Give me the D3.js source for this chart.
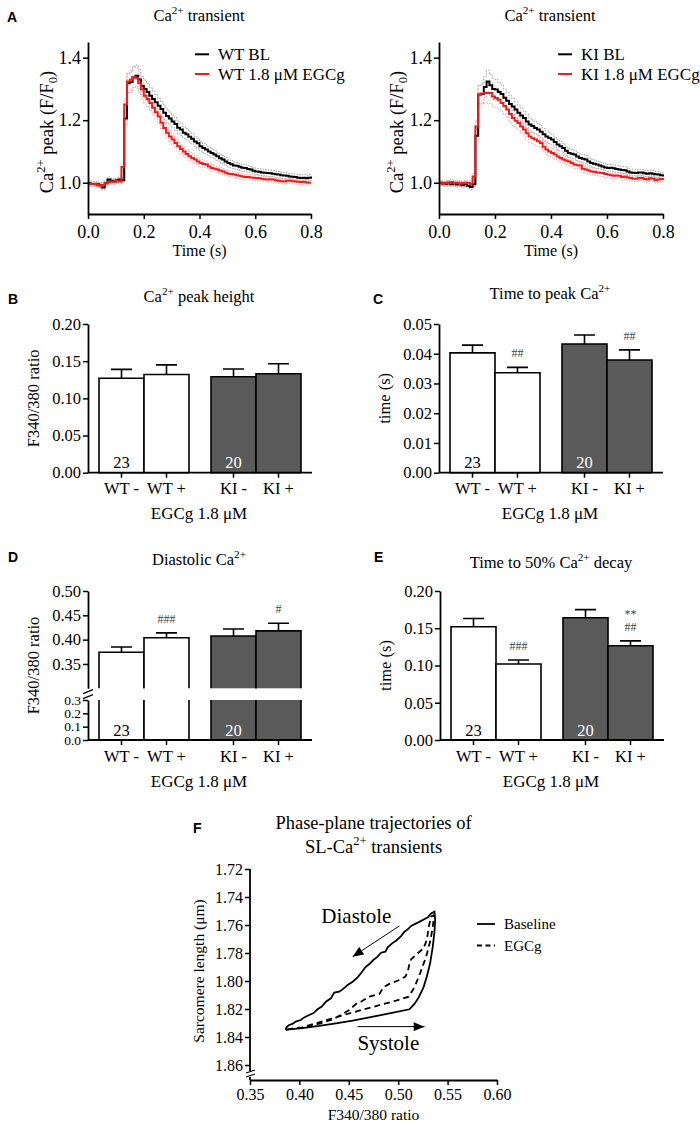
<!DOCTYPE html>
<html><head><meta charset="utf-8">
<script src="https://cdn.jsdelivr.net/npm/d3@7"></script>
<style>
body{margin:0;background:#fff;}
</style></head><body>
<svg id="fig" width="700" height="1128"></svg>
<script>
// ---------------- DATA ----------------
const timeA = [0.00,0.01,0.02,0.03,0.04,0.05,0.06,0.07,0.08,0.09,0.10,0.11,0.12,0.13,0.14,0.15,0.16,0.17,0.18,0.19,0.20,0.21,0.22,0.23,0.24,0.25,0.26,0.27,0.28,0.29,0.30,0.31,0.32,0.33,0.34,0.35,0.36,0.37,0.38,0.39,0.40,0.41,0.42,0.43,0.44,0.45,0.46,0.47,0.48,0.49,0.50,0.51,0.52,0.53,0.54,0.55,0.56,0.57,0.58,0.59,0.60,0.61,0.62,0.63,0.64,0.65,0.66,0.67,0.68,0.69,0.70,0.71,0.72,0.73,0.74,0.75,0.76,0.77,0.78,0.79,0.80];

const wtBL = [0.998,0.996,0.997,0.995,0.992,0.985,0.998,1.010,1.006,1.004,
 1.008,1.010,1.008,1.205,1.318,1.322,1.338,1.342,1.330,1.310,
 1.300,1.290,1.278,1.268,1.257,1.246,1.236,1.224,1.213,1.205,
 1.196,1.188,1.176,1.170,1.160,1.155,1.147,1.141,1.132,1.126,
 1.117,1.111,1.106,1.100,1.095,1.090,1.085,1.078,1.074,1.068,
 1.063,1.059,1.055,1.054,1.051,1.048,1.047,1.044,1.042,1.038,
 1.036,1.035,1.033,1.032,1.031,1.030,1.029,1.027,1.026,1.024,
 1.023,1.022,1.020,1.019,1.018,1.016,1.015,1.016,1.014,1.016,
 1.020];
const wtEG = [0.997,0.995,0.996,0.993,0.990,0.992,0.998,1.002,1.004,1.003,
 1.006,1.004,1.050,1.250,1.324,1.330,1.338,1.335,1.318,1.298,
 1.278,1.268,1.255,1.240,1.225,1.212,1.192,1.175,1.160,1.148,
 1.138,1.127,1.117,1.108,1.100,1.092,1.085,1.079,1.074,1.068,
 1.063,1.060,1.058,1.052,1.047,1.045,1.042,1.039,1.036,1.032,
 1.029,1.028,1.026,1.024,1.022,1.020,1.018,1.018,1.017,1.016,
 1.015,1.014,1.013,1.011,1.010,1.011,1.010,1.008,1.006,1.005,
 1.004,1.006,1.006,1.005,1.004,1.003,1.002,1.003,1.001,1.000,
 1.000];
const kiBL = [1.000,0.998,0.996,1.000,0.995,0.998,0.994,0.997,0.992,0.996,
 0.990,0.986,0.995,1.150,1.282,1.284,1.306,1.324,1.312,1.300,
 1.298,1.290,1.284,1.272,1.262,1.252,1.244,1.234,1.224,1.215,
 1.207,1.196,1.186,1.181,1.175,1.170,1.163,1.155,1.148,1.143,
 1.138,1.130,1.122,1.117,1.111,1.102,1.095,1.093,1.090,1.084,
 1.079,1.077,1.074,1.068,1.063,1.061,1.058,1.055,1.052,1.049,
 1.047,1.048,1.046,1.044,1.042,1.041,1.040,1.036,1.033,1.032,
 1.031,1.033,1.033,1.030,1.029,1.030,1.029,1.027,1.026,1.024,
 1.020];
const kiEG = [1.000,0.996,1.000,0.998,1.002,0.998,1.000,0.997,1.000,0.998,
 1.000,0.997,1.020,1.180,1.282,1.285,1.287,1.288,1.287,1.276,
 1.271,1.265,1.255,1.245,1.234,1.220,1.207,1.198,1.191,1.180,
 1.170,1.158,1.148,1.142,1.138,1.133,1.127,1.115,1.106,1.100,
 1.095,1.090,1.084,1.079,1.074,1.071,1.068,1.063,1.058,1.056,
 1.055,1.045,1.042,1.039,1.036,1.035,1.033,1.032,1.031,1.028,
 1.026,1.024,1.022,1.023,1.022,1.018,1.020,1.017,1.015,1.013,
 1.013,1.016,1.015,1.012,1.010,1.014,1.013,1.008,1.010,1.012,
 1.015];

const semWtBL = [0.008,0.008,0.008,0.008,0.008,0.008,0.008,0.008,0.008,0.008,
 0.008,0.008,0.008,0.020,0.030,0.032,0.034,0.034,0.032,0.030,
 0.028,0.027,0.026,0.025,0.025,0.024,0.023,0.022,0.022,0.021,
 0.020,0.020,0.019,0.019,0.018,0.018,0.017,0.017,0.016,0.016,
 0.015,0.015,0.015,0.014,0.014,0.014,0.013,0.013,0.013,0.012,
 0.012,0.012,0.011,0.011,0.011,0.011,0.010,0.010,0.010,0.010,
 0.010,0.010,0.010,0.010,0.010,0.010,0.010,0.010,0.010,0.010,
 0.010,0.010,0.010,0.010,0.010,0.010,0.010,0.010,0.010,0.010,
 0.010];
const semWtEG = [0.008,0.008,0.008,0.008,0.008,0.008,0.008,0.008,0.008,0.008,
 0.008,0.008,0.010,0.020,0.028,0.030,0.032,0.032,0.030,0.028,
 0.026,0.025,0.024,0.023,0.022,0.021,0.020,0.019,0.018,0.018,
 0.017,0.016,0.016,0.015,0.015,0.014,0.014,0.013,0.013,0.012,
 0.012,0.012,0.011,0.011,0.011,0.010,0.010,0.010,0.010,0.009,
 0.009,0.009,0.009,0.009,0.009,0.009,0.009,0.009,0.009,0.009,
 0.008,0.008,0.008,0.008,0.008,0.008,0.008,0.008,0.008,0.008,
 0.008,0.008,0.008,0.008,0.008,0.008,0.008,0.008,0.008,0.008,
 0.008];
const semKiBL = [0.008,0.008,0.008,0.008,0.008,0.008,0.008,0.008,0.008,0.008,
 0.008,0.008,0.008,0.020,0.030,0.032,0.034,0.036,0.035,0.034,
 0.032,0.030,0.029,0.028,0.027,0.026,0.025,0.025,0.024,0.023,
 0.022,0.022,0.021,0.020,0.020,0.019,0.019,0.018,0.018,0.017,
 0.017,0.016,0.016,0.015,0.015,0.015,0.014,0.014,0.014,0.013,
 0.013,0.013,0.013,0.012,0.012,0.012,0.012,0.011,0.011,0.011,
 0.011,0.011,0.011,0.011,0.011,0.011,0.011,0.011,0.011,0.011,
 0.010,0.010,0.010,0.010,0.010,0.010,0.010,0.010,0.010,0.010,
 0.010];
const semKiEG = [0.008,0.008,0.008,0.008,0.008,0.008,0.008,0.008,0.008,0.008,
 0.008,0.008,0.010,0.020,0.028,0.030,0.032,0.033,0.034,0.033,
 0.031,0.030,0.028,0.027,0.026,0.025,0.024,0.023,0.022,0.021,
 0.020,0.020,0.019,0.018,0.018,0.017,0.016,0.016,0.015,0.015,
 0.014,0.014,0.014,0.013,0.013,0.013,0.012,0.012,0.012,0.011,
 0.011,0.011,0.011,0.011,0.011,0.011,0.011,0.011,0.011,0.011,
 0.010,0.010,0.010,0.010,0.010,0.010,0.010,0.010,0.010,0.010,
 0.009,0.009,0.009,0.009,0.009,0.009,0.009,0.009,0.009,0.009,
 0.009];

const ticksAx = [0, 0.2, 0.4, 0.6, 0.8];
const ticksAy = [1.0, 1.2, 1.4];

// bar charts
const CAT_LABELS = ["WT -", "WT +", "KI -", "KI +"];
const CAT_GROUP = ["WT", "WT", "KI", "KI"];
const CAT_TREAT = ["-", "+", "-", "+"];
const GROUPS = ["WT", "KI"];
const TREATS = ["-", "+"];
const N_CELLS = ["23", "", "20", ""];

const peakHeight    = [0.127, 0.132, 0.129, 0.133];
const peakHeightErr = [0.012, 0.013, 0.0105, 0.0136];
const timeToPeak    = [0.0403, 0.0336, 0.0433, 0.0379];
const timeToPeakErr = [0.0026, 0.0018, 0.0030, 0.0034];
const diastolic     = [0.374, 0.404, 0.4075, 0.418];
const diastolicErr  = [0.011, 0.010, 0.0144, 0.0156];
const decay50       = [0.152, 0.102, 0.164, 0.1266];
const decay50Err    = [0.011, 0.0054, 0.011, 0.0064];

const sigC = [[], ["##"], [], ["##"]];
const sigD = [[], ["###"], [], ["#"]];
const sigE = [[], ["###"], [], ["##", "**"]];

const ticksB = [0, 0.05, 0.10, 0.15, 0.20];
const ticksC = [0, 0.01, 0.02, 0.03, 0.04, 0.05];
const ticksDupper = [0.35, 0.40, 0.45, 0.50];
const ticksDlower = [0, 0.1, 0.2, 0.3];
const ticksE = [0, 0.05, 0.10, 0.15, 0.20];

// phase plane [F340/380 ratio, sarcomere length]
const phaseBaseline = [
 [0.3862,1.8350],[0.3896,1.8345],[0.4031,1.8336],[0.4200,1.8321],[0.4369,1.8302],[0.4539,1.8283],
 [0.4708,1.8260],[0.4911,1.8231],[0.5114,1.8202],[0.5164,1.8164],[0.5208,1.8117],[0.5256,1.8045],
 [0.5289,1.7969],[0.5323,1.7874],[0.5350,1.7755],[0.5367,1.7648],[0.5374,1.7564],[0.5367,1.7505],
 [0.5333,1.7517],[0.5300,1.7545],[0.5249,1.7564],[0.5198,1.7583],[0.5131,1.7607],[0.5097,1.7631],
 [0.5063,1.7648],[0.5029,1.7679],[0.4978,1.7712],[0.4938,1.7731],[0.4894,1.7760],[0.4870,1.7790],
 [0.4826,1.7798],[0.4792,1.7826],[0.4748,1.7850],[0.4708,1.7879],[0.4667,1.7902],[0.4623,1.7945],
 [0.4589,1.7974],[0.4539,1.8005],[0.4488,1.8029],[0.4437,1.8060],[0.4403,1.8076],[0.4353,1.8083],
 [0.4319,1.8124],[0.4268,1.8148],[0.4227,1.8183],[0.4184,1.8202],[0.4139,1.8231],[0.4099,1.8243],
 [0.4048,1.8260],[0.4014,1.8279],[0.3963,1.8290],[0.3930,1.8307],[0.3896,1.8314],[0.3869,1.8331],
 [0.3862,1.8350]];
const phaseEGCg = [
 [0.3879,1.8345],[0.4031,1.8331],[0.4234,1.8288],[0.4505,1.8231],[0.4776,1.8179],[0.4978,1.8140],
 [0.5107,1.8112],[0.5164,1.8045],[0.5222,1.7945],[0.5283,1.7826],[0.5327,1.7707],[0.5350,1.7612],
 [0.5364,1.7529],[0.5333,1.7540],[0.5310,1.7612],[0.5289,1.7707],[0.5256,1.7767],[0.5198,1.7802],
 [0.5131,1.7845],[0.5114,1.7879],[0.5097,1.7933],[0.5073,1.7969],[0.5012,1.7993],[0.4911,1.8021],
 [0.4850,1.8045],[0.4810,1.8093],[0.4708,1.8112],[0.4623,1.8148],[0.4572,1.8164],[0.4505,1.8207],
 [0.4420,1.8243],[0.4336,1.8274],[0.4234,1.8298],[0.4133,1.8317],[0.4031,1.8331],[0.3930,1.8340],
 [0.3879,1.8345]];
const ticksFx = [0.35, 0.40, 0.45, 0.50, 0.55, 0.60];
const ticksFy = [1.72, 1.74, 1.76, 1.78, 1.80, 1.82, 1.84, 1.86];
const annotF = [
 {text: "Diastole", at: [0.4576, 1.7586], from: [0.5012, 1.7607], to: [0.4539, 1.7826]},
 {text: "Systole",  at: [0.4900, 1.8493], from: [0.4589, 1.8326], to: [0.5266, 1.8326]}
];

// ---------------- DRAWING ----------------
const SERIF = '"Liberation Serif","Times New Roman",serif';
const SANS = '"Liberation Sans",Arial,sans-serif';
const RED = "#ee1c1c";
const DARK = "#5a5a5a";
const svg = d3.select("#fig").attr("font-family", SERIF);

svg.append("defs").append("marker")
  .attr("id", "ah").attr("viewBox", "0 0 12 10").attr("refX", 12).attr("refY", 5)
  .attr("markerWidth", 12).attr("markerHeight", 9).attr("markerUnits", "userSpaceOnUse")
  .attr("orient", "auto")
  .append("path").attr("d", "M0,0L12,5L0,10z").attr("fill", "#000");

function rich(g, x, y, parts, size, opt) {
  opt = opt || {};
  const t = g.append("text").attr("font-size", size)
    .attr("text-anchor", opt.anchor || "middle").attr("fill", opt.fill || "#000");
  if (opt.rotate) t.attr("transform", `translate(${x},${y}) rotate(-90)`);
  else t.attr("x", x).attr("y", y);
  let shift = 0;
  parts.forEach(p => {
    const str = Array.isArray(p) ? p[0] : p;
    const kind = Array.isArray(p) ? p[1] : null;
    const ts = t.append("tspan").text(str);
    let target = 0;
    if (kind === "sup") { target = -size * 0.42; ts.attr("font-size", size * 0.68); }
    else if (kind === "sub") { target = size * 0.22; ts.attr("font-size", size * 0.68); }
    if (target - shift !== 0) ts.attr("dy", target - shift);
    shift = target;
  });
  return t;
}

function letter(x, y, s) {
  svg.append("text").attr("x", x).attr("y", y).attr("font-family", SANS)
    .attr("font-weight", "bold").attr("font-size", 14).text(s);
}

function styleAxis(sel, fs) {
  sel.attr("font-family", SERIF).attr("font-size", fs);
  sel.select(".domain").attr("stroke-width", 1.8).attr("stroke", "#000");
  sel.selectAll(".tick line").attr("stroke-width", 1.5).attr("stroke", "#000");
  sel.selectAll(".tick text").attr("fill", "#000");
}

// ----- Panel A -----
function transientPanel(cfg) {
  const g = svg.append("g");
  const x = d3.scaleLinear().domain([0, 0.8]).range([cfg.x0, cfg.x1]);
  const y = d3.scaleLinear().domain([0.9, 1.45]).range([214, 42]);
  const line = arr => d3.line().x((d, i) => x(timeA[i])).y(d => y(d)).curve(d3.curveStepAfter)(arr);

  const bands = [
    {s: cfg.bl, e: cfg.blSem, c: "#9a9a9a"},
    {s: cfg.eg, e: cfg.egSem, c: "#f2a3a3"}
  ];
  bands.forEach(b => {
    [1, -1].forEach(sgn => {
      g.append("path").attr("d", line(b.s.map((v, i) => v + sgn * b.e[i])))
        .attr("fill", "none").attr("stroke", b.c).attr("stroke-width", 1)
        .attr("stroke-dasharray", "1.5,1.5");
    });
  });
  g.append("path").attr("d", line(cfg.bl)).attr("fill", "none").attr("stroke", "#000").attr("stroke-width", 2);
  g.append("path").attr("d", line(cfg.eg)).attr("fill", "none").attr("stroke", RED).attr("stroke-width", 2);

  const ax = g.append("g").attr("transform", `translate(0,${y(0.9)})`)
    .call(d3.axisBottom(x).tickValues(ticksAx).tickFormat(d3.format(".1f")).tickSize(5).tickPadding(6).tickSizeOuter(0));
  styleAxis(ax, 18);
  const ay = g.append("g").attr("transform", `translate(${x(0)},0)`)
    .call(d3.axisLeft(y).tickValues(ticksAy).tickFormat(d3.format(".1f")).tickSize(5).tickPadding(2).tickSizeOuter(0));
  styleAxis(ay, 18);

  rich(g, (cfg.x0 + cfg.x1) / 2, 256, ["Time (s)"], 16);
  rich(g, cfg.ylabX, 132, ["Ca", ["2+", "sup"], " peak (F/F", ["0", "sub"], ")"], 18.5, {rotate: true});
  rich(g, cfg.titleX, 20.7, ["Ca", ["2+", "sup"], " transient"], 16.5);

  // legend
  const lg = [{c: "#000", t: cfg.legend[0], y: 54.3}, {c: RED, t: cfg.legend[1], y: 74}];
  lg.forEach(l => {
    g.append("line").attr("x1", cfg.legX).attr("x2", cfg.legX + 14).attr("y1", l.y).attr("y2", l.y)
      .attr("stroke", l.c).attr("stroke-width", 2);
    g.append("text").attr("x", cfg.legX + 23).attr("y", l.y + 6).attr("font-size", 17).text(l.t);
  });
}

transientPanel({x0: 88, x1: 311, bl: wtBL, eg: wtEG, blSem: semWtBL, egSem: semWtEG,
  ylabX: 53, titleX: 199, legX: 195, legend: ["WT BL", "WT 1.8 \u03bcM EGCg"]});
transientPanel({x0: 439, x1: 663, bl: kiBL, eg: kiEG, blSem: semKiBL, egSem: semKiEG,
  ylabX: 403, titleX: 550, legX: 558, legend: ["KI BL", "KI 1.8 \u03bcM EGCg"]});
letter(7, 22, "A");

// ----- Bar panels -----
function barPanel(cfg) {
  const g = svg.append("g");
  const gx = d3.scaleBand().domain(GROUPS).range([cfg.ax, cfg.ax + 224])
    .paddingInner(22 / 112).paddingOuter(11 / 112);
  const tx = d3.scaleBand().domain(TREATS).range([0, gx.bandwidth()]);
  const bw = tx.bandwidth();
  const leftOf = i => gx(CAT_GROUP[i]) + tx(CAT_TREAT[i]);
  const segs = cfg.segs;
  const last = segs[segs.length - 1];
  const base = last.y(last.lo);

  cfg.values.forEach((v, i) => {
    const l = leftOf(i), r = l + bw;
    const fill = CAT_GROUP[i] === "WT" ? "#fff" : DARK;
    segs.forEach(s => {
      if (v <= s.lo) return;
      const top = s.y(Math.min(v, s.hi)), bot = s.y(s.lo);
      const openTop = v > s.hi, openBot = s.lo > 0;
      g.append("rect").attr("x", l).attr("y", top).attr("width", bw).attr("height", bot - top).attr("fill", fill);
      let d = openBot ? `M${l},${bot}` : `M${r},${bot}L${l},${bot}`;
      d += `L${l},${top}`;
      d += openTop ? `M${r},${top}` : `L${r},${top}`;
      d += `L${r},${bot}`;
      g.append("path").attr("d", d).attr("fill", "none").attr("stroke", "#000").attr("stroke-width", 1.6);
    });
    // error bar
    const s = segs.find(s => v > s.lo && v <= s.hi);
    const cx = l + bw / 2;
    const eTop = s.y(v + cfg.errs[i]);
    g.append("path").attr("d", `M${cx},${s.y(v)}V${eTop}M${cx - 10.5},${eTop}H${cx + 10.5}`)
      .attr("fill", "none").attr("stroke", "#000").attr("stroke-width", 1.6);
    // significance
    (cfg.sig ? cfg.sig[i] : []).forEach((txt, k) => {
      g.append("text").attr("x", cx).attr("y", eTop - 10 - k * 12.5).attr("text-anchor", "middle")
        .attr("font-size", 12).attr("fill", "#444").text(txt);
    });
    // n
    if (N_CELLS[i]) {
      g.append("text").attr("x", cx).attr("y", base - 4.5).attr("text-anchor", "middle")
        .attr("font-size", 16.5).attr("fill", CAT_GROUP[i] === "WT" ? "#000" : "#fff").text(N_CELLS[i]);
    }
  });

  segs.forEach(s => {
    const a = g.append("g").attr("transform", `translate(${cfg.ax},0)`)
      .call(d3.axisLeft(s.y).tickValues(s.ticks).tickFormat(d3.format(s.fmt)).tickSize(5).tickPadding(2).tickSizeOuter(0));
    styleAxis(a, s.fs || 16.5);
  });
  if (segs.length > 1) {
    const gapMid = (segs[0].y(segs[0].lo) + segs[1].y(segs[1].hi)) / 2;
    g.append("rect").attr("x", cfg.ax - 6).attr("y", gapMid - 3).attr("width", 12).attr("height", 6).attr("fill", "#fff");
    [-2.5, 2.5].forEach(o => {
      g.append("line").attr("x1", cfg.ax - 5).attr("y1", gapMid + o + 2).attr("x2", cfg.ax + 5).attr("y2", gapMid + o - 2)
        .attr("stroke", "#000").attr("stroke-width", 1.3);
    });
  }
  // x axis
  g.append("line").attr("x1", cfg.ax).attr("x2", cfg.ax + 224).attr("y1", base).attr("y2", base)
    .attr("stroke", "#000").attr("stroke-width", 1.8);
  CAT_LABELS.forEach((lab, i) => {
    const cx = leftOf(i) + bw / 2;
    g.append("line").attr("x1", cx).attr("x2", cx).attr("y1", base).attr("y2", base + 5)
      .attr("stroke", "#000").attr("stroke-width", 1.5);
    g.append("text").attr("x", cx).attr("y", base + 21.5).attr("text-anchor", "middle")
      .attr("font-size", 16.5).text(lab);
  });
  g.append("text").attr("x", cfg.ax + 111).attr("y", base + 46.5).attr("text-anchor", "middle")
    .attr("font-size", 17).text("EGCg 1.8 \u03bcM");
  rich(g, cfg.ax - 49, (segs[0].y(segs[0].hi) + base) / 2, cfg.ylabel, 16.5, {rotate: true});
  rich(g, cfg.ax + 111, cfg.titleY, cfg.title, 16.5);
}

const yB = d3.scaleLinear().domain([0, 0.2]).range([472.7, 324]);
barPanel({ax: 88, values: peakHeight, errs: peakHeightErr, sig: null,
  segs: [{y: yB, lo: 0, hi: 0.2, ticks: ticksB, fmt: ".2f"}],
  ylabel: ["F340/380 ratio"], title: ["Ca", ["2+", "sup"], " peak height"], titleY: 302});
letter(8, 304, "B");

const yC = d3.scaleLinear().domain([0, 0.05]).range([472.7, 324]);
barPanel({ax: 439, values: timeToPeak, errs: timeToPeakErr, sig: sigC,
  segs: [{y: yC, lo: 0, hi: 0.05, ticks: ticksC, fmt: ".2f"}],
  ylabel: ["time (s)"], title: ["Time to peak Ca", ["2+", "sup"]], titleY: 299});
letter(373, 304, "C");

const yDu = d3.scaleLinear().domain([0.30, 0.50]).range([688.3, 591]);
const yDl = d3.scaleLinear().domain([0, 0.3]).range([740, 700]);
barPanel({ax: 88, values: diastolic, errs: diastolicErr, sig: sigD,
  segs: [{y: yDu, lo: 0.30, hi: 0.50, ticks: ticksDupper, fmt: ".2f"},
         {y: yDl, lo: 0, hi: 0.30, ticks: ticksDlower, fmt: ".1f", fs: 13.5}],
  ylabel: ["F340/380 ratio"], title: ["Diastolic Ca", ["2+", "sup"]], titleY: 565});
letter(8, 562, "D");

const yE = d3.scaleLinear().domain([0, 0.2]).range([740, 591]);
barPanel({ax: 440, values: decay50, errs: decay50Err, sig: sigE,
  segs: [{y: yE, lo: 0, hi: 0.2, ticks: ticksE, fmt: ".2f"}],
  ylabel: ["time (s)"], title: ["Time to 50% Ca", ["2+", "sup"], " decay"], titleY: 568});
letter(374, 562, "E");

// ----- Panel F -----
(function () {
  const g = svg.append("g");
  const x = d3.scaleLinear().domain([0.35, 0.60]).range([250, 497]);
  const y = d3.scaleLinear().domain([1.72, 1.86]).range([869, 1065]);
  const xAxisY = 1080;
  const line = d3.line().x(d => x(d[0])).y(d => y(d[1]));

  g.append("path").attr("d", line(phaseEGCg)).attr("fill", "none").attr("stroke", "#000")
    .attr("stroke-width", 1.8).attr("stroke-dasharray", "6,4");
  g.append("path").attr("d", line(phaseBaseline)).attr("fill", "none").attr("stroke", "#000")
    .attr("stroke-width", 1.8);

  const ay = g.append("g").attr("transform", `translate(${x(0.35)},0)`)
    .call(d3.axisLeft(y).tickValues(ticksFy).tickFormat(d3.format(".2f")).tickSize(5).tickPadding(2).tickSizeOuter(0));
  styleAxis(ay, 16);
  ay.select(".domain").remove();
  g.append("path").attr("d", `M${x(0.35)},${y(1.72)}V1071M${x(0.35)},1077V${xAxisY}`)
    .attr("stroke", "#000").attr("stroke-width", 1.8).attr("fill", "none");
  [0, 4].forEach(o => {
    g.append("line").attr("x1", x(0.35) - 4).attr("y1", 1073 + o).attr("x2", x(0.35) + 5).attr("y2", 1070 + o)
      .attr("stroke", "#000").attr("stroke-width", 1.2);
  });
  const ax = g.append("g").attr("transform", `translate(0,${xAxisY})`)
    .call(d3.axisBottom(x).tickValues(ticksFx).tickFormat(d3.format(".2f")).tickSize(5).tickPadding(4).tickSizeOuter(0));
  styleAxis(ax, 16);

  annotF.forEach(a => {
    g.append("line").attr("x1", x(a.from[0])).attr("y1", y(a.from[1])).attr("x2", x(a.to[0])).attr("y2", y(a.to[1]))
      .attr("stroke", "#000").attr("stroke-width", 1).attr("marker-end", "url(#ah)");
    g.append("text").attr("x", x(a.at[0])).attr("y", y(a.at[1])).attr("text-anchor", "middle")
      .attr("font-size", 21).text(a.text);
  });

  // legend
  [{t: "Baseline", y: 924, dash: null}, {t: "EGCg", y: 945.5, dash: "5,3.5"}].forEach(l => {
    const ln = g.append("line").attr("x1", 477).attr("x2", 495).attr("y1", l.y).attr("y2", l.y)
      .attr("stroke", "#000").attr("stroke-width", 1.8);
    if (l.dash) ln.attr("stroke-dasharray", l.dash);
    g.append("text").attr("x", 504).attr("y", l.y + 5).attr("font-size", 15).text(l.t);
  });

  rich(g, 373.5, 1120, ["F340/380 ratio"], 15.5);
  rich(g, 204, 971, ["Sarcomere length (\u03bcm)"], 15.5, {rotate: true});
  rich(g, 373.5, 829, ["Phase-plane trajectories of"], 18.5);
  rich(g, 373.5, 853, ["SL-Ca", ["2+", "sup"], " transients"], 18.5);
})();
letter(193, 833, "F");
</script>
</body></html>
